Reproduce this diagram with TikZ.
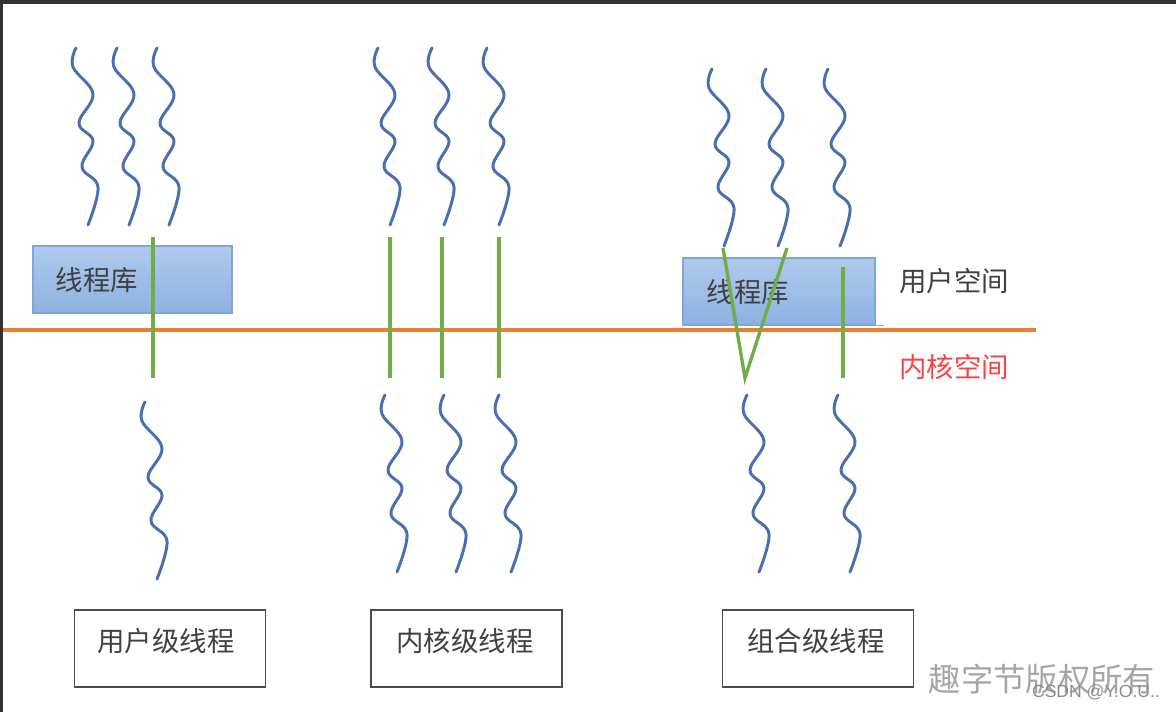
\documentclass[tikz,border=0pt]{standalone}
\usepackage{fontspec}
\setmainfont{Liberation Sans}
\newfontfamily\cjk{Noto Sans CJK SC}
\definecolor{threadblue}{HTML}{4A6FB0}
\definecolor{mapgreen}{HTML}{70AD47}
\definecolor{splitorange}{HTML}{ED7D31}
\definecolor{libtop}{HTML}{B0CAEC}
\definecolor{libbot}{HTML}{8DB1E2}
\definecolor{libborder}{HTML}{7FA5D9}
\definecolor{txtgray}{HTML}{404040}
\definecolor{kernred}{HTML}{FF4040}
\tikzset{
  thread/.pic={
    \draw[threadline] plot[smooth, tension=0.65] coordinates
      {(0,0) (-3,19) (17,46) (3,75) (17,93) (6,119) (22,139) (12,177)};
  }
}
\begin{document}
\begin{tikzpicture}[x=0.025cm, y=-0.025cm,
  threadline/.style={threadblue, line width=2.1pt, line cap=round},
  mapline/.style={mapgreen, line width=2.4pt},
  libbox/.style={draw=libborder, line width=0.8pt, top color=libtop, bottom color=libbot,
    minimum height=1.675cm, inner sep=0pt},
  kindbox/.style={draw=black!70, line width=0.9pt, minimum width=4.775cm,
    minimum height=1.925cm, inner sep=0pt},
  lbl/.style={font=\cjk\fontsize{19.5}{20}\selectfont, text=txtgray, inner sep=0pt}]
\useasboundingbox (0,0) rectangle (1176,712);
% frame of the screenshot
\fill[black!80] (0,0) rectangle (1176,4);
\fill[black!80] (0,0) rectangle (3,712);

% user / kernel border
\draw[splitorange, line width=2.4pt] (3,330) -- (1036,330);

% thread libraries
\node[libbox, minimum width=4.975cm] (lib1) at (132.5,279.5) {};
\node[lbl] (lib1txt) at (97,280) {线程库};
\node[libbox, minimum width=4.8cm] (lib2) at (779,291.5) {};
\draw[libborder, line width=0.8pt] (lib2.south east) -- ++(8,0);
\node[lbl] (lib2txt) at (748,292) {线程库};

\node[lbl] (uspace) at (954,281) {用户空间};
\node[lbl, text=kernred] (kspace) at (954,367) {内核空间};

% threads above
\foreach \x in {76,117,157} \pic at (\x,48) {thread};
\foreach \x in {378,432,487} \pic at (\x,48) {thread};
\foreach \x in {712,766,828} \pic at (\x,69) {thread};
% threads below
\pic at (145,402) {thread};
\foreach \x in {385,444,499} \pic at (\x,395) {thread};
\foreach \x in {747,838} \pic at (\x,395) {thread};

% mappings
\coordinate (u1) at (153,237);
\coordinate (k1) at (153,378);
\draw[mapline] (u1) -- (k1);
\foreach \x in {390,442,499} \draw[mapline] (\x,237) -- (\x,378);
\coordinate (va) at (723,248);
\coordinate (vk) at (745,378);
\coordinate (vb) at (787,248);
\draw[mapline] (va) -- (vk) -- (vb);
\coordinate (c1) at (843,267);
\coordinate (c2) at (843,378);
\draw[mapline] (c1) -- (c2);

% kinds of threads
\node[kindbox] (ult) at (170,648.5) {};
\node[lbl] at (166,641) {用户级线程};
\node[kindbox] (klt) at (466.5,648.5) {};
\node[lbl] at (465,641) {内核级线程};
\node[kindbox] (mix) at (818,648.5) {};
\node[lbl] at (816,641) {组合级线程};

% watermark
\node[font=\cjk\fontsize{23}{24}\selectfont, text=black!35] (wm) at (1042,679) {趣字节版权所有};
\node[font=\fontsize{12.5}{13}\selectfont, text=black!45] (csdn) at (1096,692) {CSDN @Y.O.U..};
\end{tikzpicture}
\end{document}
